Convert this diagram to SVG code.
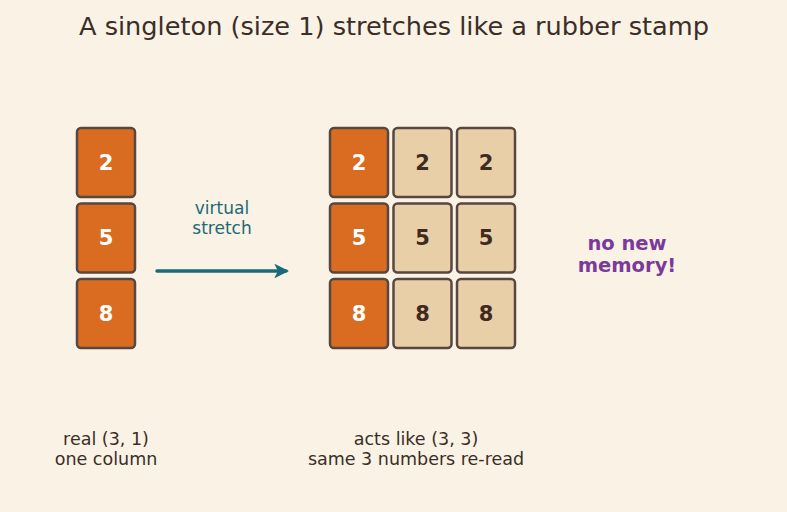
<svg xmlns="http://www.w3.org/2000/svg" width="787" height="512" viewBox="0 0 787 512">
<defs>
<style>
text{font-family:"DejaVu Sans","Liberation Sans",sans-serif;text-anchor:middle}
.c{stroke:#574740;stroke-width:2.5}
.o{fill:#D96C20}
.b{fill:#E9CFA8}
.nw{fill:#ffffff;font-weight:bold;font-size:21px}
.nd{fill:#3f2a22;font-weight:bold;font-size:21px}
.lab{fill:#3a2e28;font-size:17.5px}
</style>
<marker id="ah" viewBox="0 0 10 10" refX="8" refY="5" markerWidth="4.2" markerHeight="4.2" orient="auto"><path d="M0,0 L10,5 L0,10 L2.5,5 Z" fill="#1B6A78"/></marker>
</defs>
<rect width="787" height="512" fill="#FAF2E4"/>
<text x="394" y="35" font-size="25.6" fill="#3a2e28">A singleton (size 1) stretches like a rubber stamp</text>
<g id="real">
<g id="r0"><rect class="c o" x="77" y="128" width="58" height="69" rx="4"/><text class="nw" x="106" y="169.5">2</text></g>
<g id="r1"><rect class="c o" x="77" y="203.5" width="58" height="69" rx="4"/><text class="nw" x="106" y="245">5</text></g>
<g id="r2"><rect class="c o" x="77" y="279" width="58" height="69" rx="4"/><text class="nw" x="106" y="320.5">8</text></g>
</g>
<g id="grid">
<g id="g00"><rect class="c o" x="330" y="128" width="58" height="69" rx="4"/><text class="nw" x="359" y="169.5">2</text></g>
<g id="g01"><rect class="c b" x="393.5" y="128" width="58" height="69" rx="4"/><text class="nd" x="422.5" y="169.5">2</text></g>
<g id="g02"><rect class="c b" x="457" y="128" width="58" height="69" rx="4"/><text class="nd" x="486" y="169.5">2</text></g>
<g id="g10"><rect class="c o" x="330" y="203.5" width="58" height="69" rx="4"/><text class="nw" x="359" y="245">5</text></g>
<g id="g11"><rect class="c b" x="393.5" y="203.5" width="58" height="69" rx="4"/><text class="nd" x="422.5" y="245">5</text></g>
<g id="g12"><rect class="c b" x="457" y="203.5" width="58" height="69" rx="4"/><text class="nd" x="486" y="245">5</text></g>
<g id="g20"><rect class="c o" x="330" y="279" width="58" height="69" rx="4"/><text class="nw" x="359" y="320.5">8</text></g>
<g id="g21"><rect class="c b" x="393.5" y="279" width="58" height="69" rx="4"/><text class="nd" x="422.5" y="320.5">8</text></g>
<g id="g22"><rect class="c b" x="457" y="279" width="58" height="69" rx="4"/><text class="nd" x="486" y="320.5">8</text></g>
</g>
<g id="connectors">
<line x1="157" y1="271" x2="286" y2="271" stroke="#1B6A78" stroke-width="3.5" stroke-linecap="round" marker-end="url(#ah)"/>
</g>
<text x="222" y="214" font-size="17" fill="#1B6A78">virtual</text>
<text x="222" y="234" font-size="17" fill="#1B6A78">stretch</text>
<text x="627" y="250" font-size="19.5" font-weight="bold" fill="#7B3A9B">no new</text>
<text x="627" y="272" font-size="19.5" font-weight="bold" fill="#7B3A9B">memory!</text>
<text class="lab" x="106" y="445">real (3, 1)</text>
<text class="lab" x="106" y="465">one column</text>
<text class="lab" x="416" y="445">acts like (3, 3)</text>
<text class="lab" x="416" y="465">same 3 numbers re-read</text>
</svg>
